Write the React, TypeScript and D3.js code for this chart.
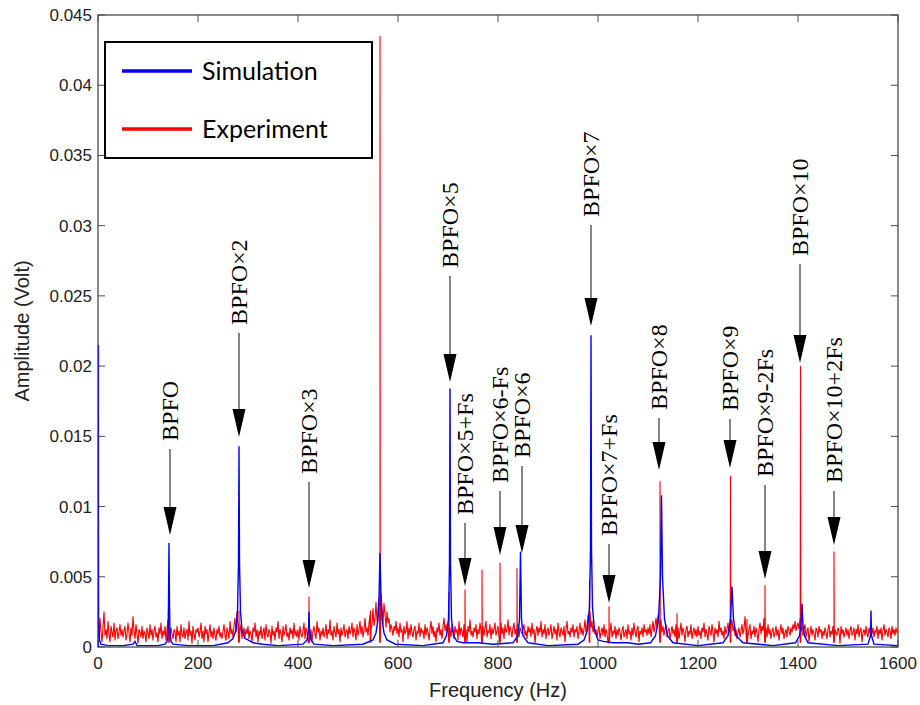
import React from 'react';
import * as d3 from 'd3';

const W = 920;
const H = 705;
const box = { left: 98, right: 898, top: 15, bottom: 647 };

const xTicks = [0, 200, 400, 600, 800, 1000, 1200, 1400, 1600];
const yTicks = [0, 0.005, 0.01, 0.015, 0.02, 0.025, 0.03, 0.035, 0.04, 0.045];
const yTickLabels = ['0', '0.005', '0.01', '0.015', '0.02', '0.025', '0.03', '0.035', '0.04', '0.045'];

// experiment noise floor, one value every 2 Hz, in units of noiseUnit volts
const noiseStep = 2;
const noiseUnit = 1.15e-4;
const expNoise = [
  14, 6, 18, 9, 3, 12, 22, 7, 11, 5, 16, 8, 3, 13, 9, 6, 15, 4, 10, 12, 5, 9, 14, 7, 11,
  6, 10, 13, 4, 8, 15, 9, 3, 12, 7, 19, 10, 5, 14, 8, 2, 11, 9, 6, 13, 5, 10, 8, 3, 12,
  9, 5, 14, 7, 11, 4, 10, 13, 6, 9, 3, 12, 8, 15, 5, 10, 7, 13, 4, 11, 17, 9, 6, 12, 8,
  5, 11, 9, 3, 13, 7, 10, 3, 14, 8, 6, 12, 5, 9, 11, 4, 16, 7, 10, 2, 13, 8, 4, 11, 9,
  12, 6, 9, 15, 5, 10, 3, 13, 8, 11, 3, 9, 14, 6, 10, 5, 12, 7, 4, 11, 8, 13, 6, 9, 5,
  10, 14, 7, 4, 12, 9, 5, 16, 8, 11, 6, 13, 18, 9, 22, 12, 7, 10, 14, 5, 9, 12, 6, 11, 8,
  13, 5, 10, 8, 3, 12, 9, 15, 6, 11, 3, 10, 7, 13, 5, 9, 12, 4, 14, 8, 6, 11, 9, 2, 13,
  7, 10, 4, 12, 9, 16, 5, 11, 8, 3, 13, 7, 10, 14, 6, 9, 4, 12, 8, 11, 5, 15, 7, 10, 6,
  11, 4, 13, 8, 6, 10, 15, 5, 12, 9, 3, 14, 6, 11, 3, 10, 13, 8, 5, 16, 9, 12, 4, 10, 7,
  12, 6, 9, 14, 5, 11, 8, 17, 7, 10, 4, 13, 9, 6, 15, 8, 11, 3, 12, 7, 10, 14, 6, 9, 11,
  5, 13, 8, 10, 15, 6, 12, 9, 4, 14, 7, 11, 16, 8, 13, 6, 10, 18, 9, 12, 7, 15, 20, 11, 14,
  24, 13, 18, 28, 16, 22, 30, 19, 33, 25, 14, 27, 20, 12, 22, 15, 18, 9, 14, 11, 7, 13, 10, 16, 8,
  12, 6, 15, 9, 11, 3, 13, 8, 10, 16, 5, 12, 7, 14, 9, 6, 11, 13, 4, 10, 8, 15, 6, 12, 9,
  10, 5, 14, 7, 12, 9, 4, 11, 16, 8, 13, 6, 10, 3, 12, 9, 15, 7, 11, 5, 13, 18, 10, 14, 9,
  15, 8, 12, 6, 14, 10, 5, 13, 9, 11, 4, 16, 7, 12, 10, 6, 14, 8, 11, 3, 13, 9, 17, 7, 10,
  6, 12, 9, 14, 5, 11, 8, 15, 10, 4, 13, 7, 12, 16, 6, 10, 9, 14, 5, 12, 8, 11, 15, 7, 10,
  13, 6, 10, 15, 8, 12, 5, 14, 9, 11, 17, 7, 13, 10, 6, 12, 15, 8, 11, 9, 14, 6, 12, 10, 8,
  11, 14, 7, 10, 5, 13, 9, 12, 6, 15, 8, 11, 2, 10, 13, 7, 12, 9, 16, 6, 11, 8, 14, 5, 10,
  12, 7, 10, 14, 5, 9, 13, 8, 11, 4, 15, 9, 6, 12, 10, 7, 13, 3, 11, 16, 8, 10, 6, 12, 9,
  14, 6, 11, 9, 13, 5, 10, 15, 8, 12, 7, 11, 17, 9, 13, 20, 14, 22, 12, 16, 9, 13, 8, 11, 6,
  10, 13, 5, 9, 12, 7, 14, 6, 11, 8, 3, 12, 9, 15, 6, 10, 8, 13, 5, 11, 7, 12, 9, 4, 10,
  13, 6, 9, 11, 5, 14, 8, 10, 4, 12, 7, 15, 9, 6, 11, 13, 3, 10, 8, 12, 6, 14, 9, 11, 7,
  12, 8, 14, 6, 11, 16, 9, 13, 18, 12, 20, 15, 11, 17, 9, 13, 7, 11, 14, 6, 10, 12, 5, 9, 13,
  8, 11, 6, 14, 9, 12, 5, 10, 15, 7, 12, 9, 3, 11, 13, 6, 10, 8, 14, 5, 9, 12, 7, 11, 6,
  13, 7, 10, 5, 12, 9, 15, 6, 11, 8, 4, 13, 10, 7, 14, 9, 3, 12, 8, 11, 6, 16, 9, 12, 7,
  10, 5, 13, 8, 11, 15, 9, 14, 12, 17, 10, 13, 7, 11, 5, 9, 12, 6, 10, 14, 8, 11, 19, 9, 12,
  7, 11, 14, 5, 10, 8, 13, 6, 12, 9, 3, 11, 15, 8, 13, 10, 18, 9, 12, 6, 14, 8, 11, 5, 10,
  12, 6, 9, 13, 7, 11, 4, 10, 14, 8, 12, 5, 9, 11, 6, 13, 10, 7, 12, 9, 14, 11, 16, 10, 13,
  15, 11, 18, 9, 13, 7, 11, 14, 6, 10, 12, 3, 9, 13, 7, 11, 8, 4, 12, 10, 6, 13, 9, 11, 5,
  10, 7, 12, 9, 5, 11, 14, 6, 10, 8, 13, 4, 11, 9, 7, 12, 10, 2, 13, 8, 11, 6, 9, 12, 7,
  11, 5, 10, 13, 7, 9, 12, 4, 11, 8, 14, 6, 10, 12, 3, 9, 11, 7, 13, 8, 6, 12, 9, 10, 8,
  12, 6, 10, 9, 13, 5, 11, 8, 12, 4, 10, 14, 7, 11, 9, 6, 12, 10, 5, 13, 8, 11, 7, 12, 9,
  10,
];

// sharp lines in the experiment spectrum
const expPeakFreq = [142, 282, 422, 545, 564, 702, 734, 768, 804, 838, 983, 1022, 1124, 1158, 1265, 1298, 1334, 1405, 1472];
const expPeakAmp = [0.0025, 0.0026, 0.0036, 0.0026, 0.0435, 0.0039, 0.0041, 0.0055, 0.006, 0.0056, 0.0048, 0.0029, 0.0118, 0.0024, 0.0122, 0.002, 0.0044, 0.02, 0.0068];

// simulation spectrum
const simFreq = [
  0, 1, 3, 6, 20, 50, 70, 74, 78, 120, 134, 138, 140, 141, 142, 143, 144, 146, 150, 180,
  230, 260, 270, 276, 279, 281, 282, 283, 285, 288, 294, 300, 305, 310, 330, 360,
  410, 418, 421, 422, 423, 426, 432, 470, 530, 550, 556, 560, 562, 564, 566, 568, 572, 578, 595,
  650, 690, 697, 701, 703, 704, 705, 707, 711, 718, 730, 760, 790,
  830, 840, 843, 845, 847, 850, 860, 900, 960, 972, 979, 983, 985, 986, 987, 989, 993, 1000,
  1010, 1030, 1060, 1080, 1105, 1115, 1121, 1125, 1127, 1129, 1133, 1139, 1150, 1200,
  1250, 1260, 1265, 1268, 1271, 1276, 1290, 1350, 1395, 1403, 1406, 1408, 1410, 1413, 1420,
  1480, 1540, 1545, 1546, 1547, 1552, 1600,
];
const simAmp = [
  0.0215, 0.002, 0.0005, 0.0002, 0.0001, 0.0001, 0.0002, 0.0004, 0.0001, 0.0001, 0.0002, 0.0004, 0.001, 0.003, 0.0074, 0.003, 0.001, 0.0004, 0.0002, 0.0001,
  0.0001, 0.0003, 0.0006, 0.0012, 0.0025, 0.006, 0.0143, 0.006, 0.0025, 0.0012, 0.0006, 0.0005, 0.0004, 0.0003, 0.0002, 0.0001,
  0.0002, 0.0005, 0.0012, 0.0025, 0.0012, 0.0005, 0.0002, 0.0001, 0.0002, 0.0005, 0.001, 0.002, 0.0035, 0.0067, 0.0035, 0.002, 0.001, 0.0005, 0.0002,
  0.0001, 0.0003, 0.0008, 0.002, 0.006, 0.0184, 0.006, 0.002, 0.0008, 0.0004, 0.0003, 0.0003, 0.0002,
  0.0003, 0.0008, 0.002, 0.0068, 0.002, 0.0008, 0.0003, 0.0001, 0.0002, 0.0005, 0.0012, 0.0028, 0.007, 0.0222, 0.007, 0.0028, 0.0012, 0.0005,
  0.0004, 0.0003, 0.0003, 0.0002, 0.0003, 0.0008, 0.002, 0.005, 0.0108, 0.005, 0.002, 0.0008, 0.0003, 0.0001,
  0.0003, 0.0008, 0.002, 0.0043, 0.002, 0.0008, 0.0003, 0.0001, 0.0003, 0.0008, 0.0015, 0.0031, 0.0015, 0.0008, 0.0003,
  0.0001, 0.0002, 0.0008, 0.0026, 0.0008, 0.0002, 0.0001,
];

// arrow annotations: label, frequency, amplitude where the text ends, amplitude of the arrow tip
const annLabel = ['BPFO', 'BPFO×2', 'BPFO×3', 'BPFO×5', 'BPFO×5+Fs', 'BPFO×6-Fs', 'BPFO×6', 'BPFO×7', 'BPFO×7+Fs', 'BPFO×8', 'BPFO×9', 'BPFO×9-2Fs', 'BPFO×10', 'BPFO×10+2Fs'];
const annFreq = [144, 282, 422, 704, 734, 804, 848, 986, 1022, 1122, 1264, 1334, 1404, 1472];
const annTextEnd = [0.01467, 0.02293, 0.01232, 0.02699, 0.0094, 0.01168, 0.01346, 0.03062, 0.0079, 0.01688, 0.0168, 0.0121, 0.02784, 0.01168];
const annTip = [0.00797, 0.01495, 0.0042, 0.01887, 0.00434, 0.00655, 0.00669, 0.02286, 0.00313, 0.0126, 0.01275, 0.00484, 0.02022, 0.00726];

const legendItems = ['Simulation', 'Experiment'];
const legendColors = ['#0000ff', '#ff0000'];

export default function App() {
  const x = d3.scaleLinear().domain([0, 1600]).range([box.left, box.right]);
  const y = d3.scaleLinear().domain([0, 0.045]).range([box.bottom, box.top]);

  const expPoints: [number, number][] = expNoise.map((v, i) => [i * noiseStep, v * noiseUnit]);
  expPeakFreq.forEach((f, i) => {
    expPoints.push([f - 0.6, 0.0003], [f, expPeakAmp[i]], [f + 0.6, 0.0003]);
  });
  expPoints.sort((a, b) => a[0] - b[0]);

  const simPoints: [number, number][] = simFreq.map((f, i) => [f, simAmp[i]]);

  const line = d3.line<[number, number]>()
    .x(d => x(d[0]))
    .y(d => y(d[1]));

  const axisColor = '#4a4a4a';
  const tickLen = 7;

  return (
    <svg width={W} height={H} style={{ position: 'absolute', left: 0, top: 0, background: '#fff' }}
      fontFamily="'Liberation Sans', Arial, sans-serif">
      <defs>
        <clipPath id="plot">
          <rect x={box.left} y={box.top} width={box.right - box.left} height={box.bottom - box.top} />
        </clipPath>
      </defs>

      <g clipPath="url(#plot)">
        <path d={line(expPoints) || ''} fill="none" stroke="#ff0000" strokeWidth={1.1} />
        <path d={line(simPoints) || ''} fill="none" stroke="#0000ff" strokeWidth={1.4} />
      </g>

      {/* frame and ticks */}
      <rect x={box.left} y={box.top} width={box.right - box.left} height={box.bottom - box.top}
        fill="none" stroke={axisColor} strokeWidth={1.3} />
      {xTicks.map(t => (
        <g key={'x' + t}>
          <line x1={x(t)} x2={x(t)} y1={box.bottom} y2={box.bottom - tickLen} stroke={axisColor} />
          <line x1={x(t)} x2={x(t)} y1={box.top} y2={box.top + tickLen} stroke={axisColor} />
          <text x={x(t)} y={box.bottom + 22} textAnchor="middle" fontSize={17} fill="#222">{t}</text>
        </g>
      ))}
      {yTicks.map((t, i) => (
        <g key={'y' + i}>
          <line x1={box.left} x2={box.left + tickLen} y1={y(t)} y2={y(t)} stroke={axisColor} />
          <line x1={box.right} x2={box.right - tickLen} y1={y(t)} y2={y(t)} stroke={axisColor} />
          <text x={box.left - 6} y={y(t) + 6} textAnchor="end" fontSize={17} fill="#222">{yTickLabels[i]}</text>
        </g>
      ))}
      {/* DC line of the simulation sits on the left axis */}
      <line x1={x(0) + 0.5} x2={x(0) + 0.5} y1={y(0)} y2={y(simAmp[0])} stroke="#0000ff" strokeOpacity={0.6} strokeWidth={1.4} />

      <text x={(box.left + box.right) / 2} y={697} textAnchor="middle" fontSize={20} fill="#222">Frequency (Hz)</text>
      <text transform={`translate(29, ${(box.top + box.bottom) / 2}) rotate(-90)`} textAnchor="middle" fontSize={20} fill="#222">Amplitude (Volt)</text>

      {/* annotations */}
      {annLabel.map((lab, i) => {
        const ax = x(annFreq[i]);
        const textY = y(annTextEnd[i]);
        const tipY = y(annTip[i]);
        return (
          <g key={lab}>
            <text transform={`translate(${ax + 8}, ${textY}) rotate(-90)`} fontFamily="'Liberation Serif', 'Times New Roman', serif"
              fontSize={24} fill="#000">{lab}</text>
            <line x1={ax} x2={ax} y1={textY + 8} y2={tipY - 26} stroke="#333" strokeWidth={1.2} />
            <polygon points={`${ax - 6.5},${tipY - 28} ${ax + 6.5},${tipY - 28} ${ax},${tipY}`} fill="#000" />
          </g>
        );
      })}

      {/* legend */}
      <rect x={105} y={42} width={267} height={116} fill="#fff" stroke="#000" strokeWidth={2} />
      {legendItems.map((item, i) => (
        <g key={item}>
          <line x1={122} x2={192} y1={71 + i * 58} y2={71 + i * 58} stroke={legendColors[i]} strokeWidth={3.5} />
          <text x={202} y={80 + i * 58} fontFamily="Lato, 'Open Sans', sans-serif" fontSize={25} fill="#000">{item}</text>
        </g>
      ))}
    </svg>
  );
}
